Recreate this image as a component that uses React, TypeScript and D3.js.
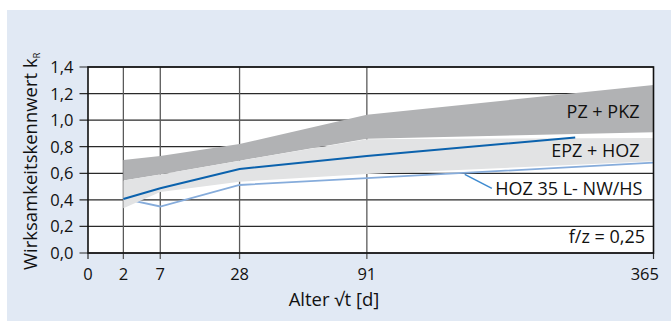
import React from "react";
import * as d3 from "d3";

// ---- data ----
const bandAges = [2, 7, 28, 91, 365];
const pzTop = [0.70, 0.73, 0.82, 1.04, 1.265];
const pzBottom = [0.545, 0.59, 0.695, 0.86, 0.908];
const epzTop = [0.545, 0.59, 0.695, 0.856, 0.866];
const epzBottom = [0.336, 0.46, 0.537, 0.595, 0.69];

const mainAges = [2, 7, 28, 91, 272];
const mainValues = [0.406, 0.487, 0.632, 0.73, 0.87];

const hozAges = [2, 7, 28, 91, 365];
const hozValues = [0.41, 0.35, 0.512, 0.563, 0.68];

const leaderAges = [164, 188];
const leaderValues = [0.592, 0.487];

const xTicks = [0, 2, 7, 28, 91, 365];
const xGrid = [2, 7, 28, 91];
const yTicks = [0, 0.2, 0.4, 0.6, 0.8, 1.0, 1.2, 1.4];

const FONT = "'Open Sans', 'DejaVu Sans', sans-serif";

export default function App() {
  const W = 671, H = 322;
  const left = 88, right = 653.5, top = 67, bottom = 253;
  const x = d3.scaleSqrt().domain([0, 365]).range([81, right]);
  const y = d3.scaleLinear().domain([0, 1.4]).range([bottom, top]);
  const xPos = (t: number) => (t === 0 ? left : x(t));

  const band = (tops: number[], bots: number[]) =>
    d3
      .area<number>()
      .x((_, i) => x(bandAges[i]))
      .y0((_, i) => y(bots[i]))
      .y1((_, i) => y(tops[i]))(bandAges.map((_, i) => i)) || "";

  const line = (ages: number[], vals: number[]) =>
    d3
      .line<number>()
      .x((i) => x(ages[i]))
      .y((i) => y(vals[i]))(ages.map((_, i) => i)) || "";

  const fmt = (v: number) => v.toFixed(1).replace(".", ",");

  return (
    <svg
      width={W}
      height={H}
      style={{ position: "absolute", left: 0, top: 0, display: "block" }}
      fontFamily={FONT}
    >
      <rect x={0} y={0} width={W} height={H} fill="#ffffff" />
      <rect x={7} y={10} width={W - 7} height={311} fill="#e1e9f4" />
      <rect x={left} y={top} width={right - left} height={bottom - top} fill="#ffffff" />

      {/* grid */}
      {yTicks.map((v) => (
        <line key={"gy" + v} x1={left - 8.5} x2={right} y1={y(v)} y2={y(v)} stroke="#2a2a2a" strokeWidth={1.2} />
      ))}
      {xGrid.map((t) => (
        <line key={"gx" + t} x1={x(t)} x2={x(t)} y1={top} y2={bottom + 6} stroke="#5a5a5a" strokeWidth={1.3} />
      ))}
      <line x1={left} x2={left} y1={bottom} y2={bottom + 6} stroke="#2a2a2a" strokeWidth={1.2} />
      <line x1={right} x2={right} y1={bottom} y2={bottom + 6} stroke="#2a2a2a" strokeWidth={1.2} />

      {/* HOZ 35 line beneath bands */}
      <path d={line(hozAges, hozValues)} fill="none" stroke="#86acdb" strokeWidth={1.8} />

      {/* bands */}
      <path d={band(pzTop, pzBottom)} fill="#b1b2b4" />
      <path d={band(epzTop, epzBottom)} fill="#e2e3e4" />

      {/* main line */}
      <path d={line(mainAges, mainValues)} fill="none" stroke="#0b62ad" strokeWidth={2} />

      {/* frame */}
      <rect x={left} y={top} width={right - left} height={bottom - top} fill="none" stroke="#111" strokeWidth={1.6} />

      {/* leader */}
      <path d={line(leaderAges, leaderValues)} fill="none" stroke="#3d8ad0" strokeWidth={1.5} />

      {/* annotations */}
      <g fill="#111" fontSize={18}>
        <text x={639.5} y={118.3} textAnchor="end">PZ + PKZ</text>
        <text x={639.5} y={156.7} textAnchor="end">EPZ + HOZ</text>
        <text x={642.5} y={195} textAnchor="end">HOZ 35 L- NW/HS</text>
        <text x={645} y={243.3} textAnchor="end">f/z = 0,25</text>
      </g>

      {/* tick labels */}
      <g fill="#111" fontSize={16.5}>
        {yTicks.map((v) => (
          <text key={"ty" + v} x={73.5} y={y(v) + 6} textAnchor="end">{fmt(v)}</text>
        ))}
        {xTicks.map((t) => (
          <text
            key={"tx" + t}
            x={t === 365 ? xPos(t) + 5.5 : xPos(t)}
            y={279.5}
            textAnchor={t === 365 ? "end" : "middle"}
          >
            {t}
          </text>
        ))}
      </g>

      {/* axis titles */}
      <text x={334} y={306} textAnchor="middle" fontSize={18.5} fill="#111">Alter √t [d]</text>
      <text transform="translate(36.5,270) rotate(-90)" fontSize={18.5} fill="#111">
        Wirksamkeitskennwert k<tspan fontSize={9} dy={3}>R</tspan>
      </text>
    </svg>
  );
}
